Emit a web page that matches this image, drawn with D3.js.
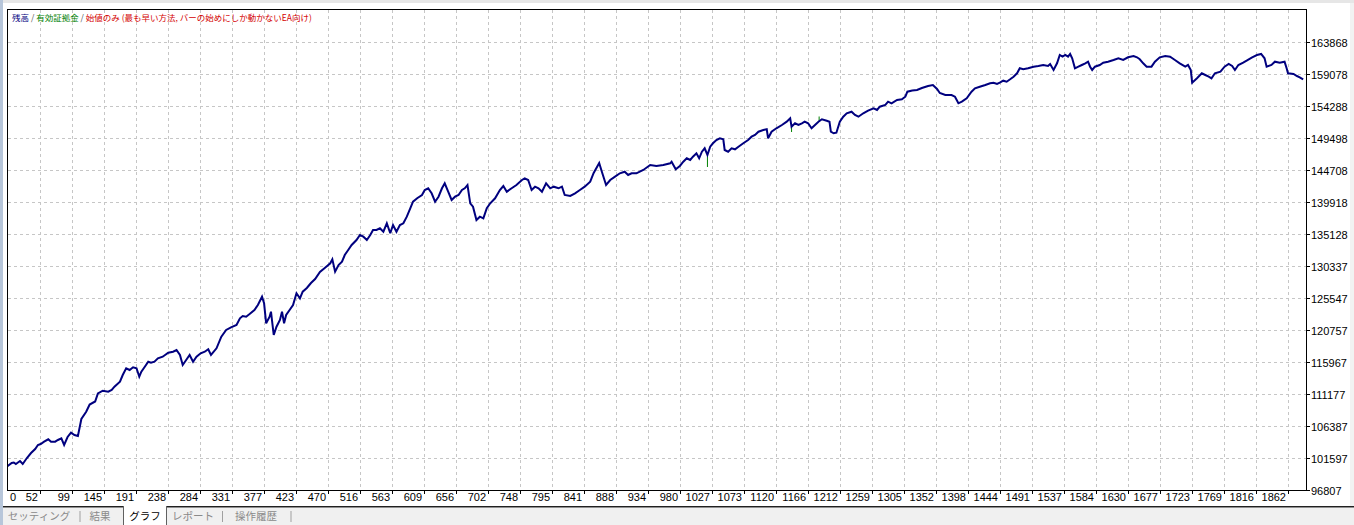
<!DOCTYPE html>
<html><head><meta charset="utf-8">
<script src="https://cdn.jsdelivr.net/npm/d3@7"></script>
<style>
html,body{margin:0;padding:0;background:#fff;overflow:hidden}
svg{display:block}
.num{font-family:"Liberation Sans Narrow","Liberation Sans",Arial,sans-serif;font-size:11px;fill:#000}
.jp{font-family:"Noto Sans CJK JP","Noto Sans CJK SC",sans-serif}
</style></head><body>
<script>
// ---------------- data ----------------
const trades = [0,11,14,17,23,27,33,39,45,49,53,58,64,68,74,78,83,87,92,97,102,107,112,119,124,132,136,143,151,156,160,168,172,177,182,187,192,196,199,204,209,213,218,223,230,238,245,250,255,259,264,269,274,279,285,291,296,300,308,315,322,329,337,342,346,351,356,363,368,374,377,380,385,387,391,395,400,403,406,409,414,419,424,429,433,439,445,451,458,465,473,476,480,485,490,494,499,504,511,516,521,526,531,535,540,545,550,555,560,564,569,574,579,584,589,593,599,606,610,615,620,625,630,635,639,644,649,654,659,664,668,672,676,680,685,690,695,700,705,712,719,724,729,736,743,751,755,760,765,770,775,780,786,792,797,804,809,813,821,828,835,842,850,855,863,867,873,879,886,893,900,905,910,917,927,937,946,956,966,968,974,980,985,990,995,999,1004,1008,1012,1016,1020,1024,1028,1033,1038,1043,1045,1050,1055,1060,1065,1072,1079,1084,1089,1094,1101,1106,1108,1113,1120,1128,1135,1140,1142,1147,1152,1157,1161,1166,1171,1176,1181,1186,1193,1197,1199,1203,1207,1212,1217,1222,1229,1234,1239,1246,1253,1261,1266,1270,1278,1282,1287,1295,1302,1307,1310,1317,1324,1331,1340,1347,1353,1357,1365,1374,1379,1384,1389,1396,1403,1408,1415,1423,1430,1435,1440,1444,1449,1454,1459,1464,1469,1473,1478,1485,1493,1500,1507,1514,1517,1522,1527,1531,1535,1539,1543,1546,1549,1553,1558,1563,1568,1572,1575,1578,1582,1589,1594,1601,1609,1616,1623,1630,1638,1643,1647,1652,1657,1664,1669,1676,1684,1691,1698,1705,1713,1717,1721,1723,1730,1737,1742,1747,1751,1756,1764,1770,1776,1781,1785,1790,1797,1802,1810,1817,1823,1828,1831,1838,1843,1850,1857,1860,1862,1870,1875,1879,1884];

const balance = [100000,100849,100923,100699,101148,100699,101597,102346,102944,103543,103693,104037,104396,104037,104037,104292,104546,103543,104741,105384,105040,104890,107435,108528,109605,110055,111252,111671,111521,111776,112270,113018,114021,115024,114770,115174,115024,113767,114515,115264,116012,115862,116012,116521,116761,117359,117509,117764,117015,115518,116267,117015,116012,116761,117270,117509,117868,117015,118018,119754,120757,121161,121506,122509,122853,122748,123152,123751,124500,125742,124754,121760,122748,123497,120009,121251,122254,123497,121760,123003,123751,124500,126251,125502,126491,127044,127793,128392,129439,130038,130742,131341,129484,130487,130981,131984,132733,133481,134230,134978,134723,134230,134978,135726,135726,135981,135472,136729,135232,136475,135472,136475,136729,137717,138975,139963,140472,140966,141714,141968,141220,139963,140711,141968,142717,141460,140217,140711,140966,141714,141968,142462,139723,139214,137223,137717,137478,138975,139723,140472,141714,142313,141460,141968,142462,143211,143465,143211,141714,142208,141968,141460,142717,141968,142208,141968,142208,140966,140816,141220,141714,142208,142956,144259,145756,144408,142462,143211,143705,144214,144453,143959,144214,144214,144708,145456,145307,145456,145711,145950,144813,145307,145950,146459,146205,146699,147208,146459,147447,147956,146953,148196,148704,149199,149453,149303,147702,147447,147956,147807,148196,148704,149199,149693,149947,150441,150695,150800,149453,150441,150950,151444,151938,152447,151190,151698,151444,151698,151938,151698,150950,151444,151938,152297,152088,151938,150441,150201,150291,151938,152686,153195,153435,152941,152686,153195,153584,153944,153689,154183,154438,154932,154692,155186,155291,155680,156428,156608,156683,156982,157282,157431,156833,156234,155935,155935,155680,154692,154932,155441,156428,156937,157177,157431,157686,157776,157581,157776,158075,157925,158284,158674,159183,159931,159781,159931,160171,160276,160425,160276,160575,159677,160680,161922,161668,161922,161668,162072,161428,159931,160171,160425,160680,160919,160171,159677,160171,160425,160769,160919,161174,161428,161174,161578,161772,161578,161278,160680,160171,160171,160919,161578,161772,161668,161174,160680,160171,160425,159677,157776,158434,159183,158928,158674,158434,159183,159423,160171,160575,160276,159677,160425,160769,161069,161578,161922,162072,161428,160171,160425,160919,160769,160919,159931,159183,159078,158779,158584,158284];

// equity excursions away from the balance line (trade, equity)
const equityTrades = [1020, 1142, 1182];
const equityValues = [145157, 150396, 152716];

const xTickLabels = [0,52,99,145,191,238,284,331,377,423,470,516,563,609,656,702,748,795,841,888,934,980,1027,1073,1120,1166,1212,1259,1305,1352,1398,1444,1491,1537,1584,1630,1677,1723,1769,1816,1862];
const yTickLabels = [96807,101597,106387,111177,115967,120757,125547,130337,135128,139918,144708,149498,154288,159078,163868];

const legendParts = [
  {text:"残高", color:"#00007f"},
  {text:" / ", color:"#555555"},
  {text:"有効証拠金", color:"#008000"},
  {text:" / ", color:"#555555"},
  {text:"始値のみ (最も早い方法, バーの始めにしか動かないEA向け)", color:"#d40000"}
];
const tabs = ["セッティング","結果","グラフ","レポート","操作履歴"];

// ---------------- layout ----------------
const W = 1354, H = 525;
const L = 8, T = 10, R = 1306, B = 490;

const x = d3.scaleLinear().domain([5.6, 1888.1]).range([L, R]);
const y = d3.scaleLinear().domain([96807, 168657]).range([B, T]);

const svg = d3.select("body").append("svg").attr("width", W).attr("height", H);

// outer frame pieces
svg.append("rect").attr("x",0).attr("y",0).attr("width",W).attr("height",3).attr("fill","#e6e6e6");
svg.append("rect").attr("x",0).attr("y",0).attr("width",3).attr("height",H).attr("fill","#b7c6da");
svg.append("rect").attr("x",1350).attr("y",3).attr("width",4).attr("height",504).attr("fill","#f2f2f2");

// grid
const g = svg.append("g");
const xGridTicks = xTickLabels.slice(1);
g.selectAll(".vg").data(xGridTicks).enter().append("line")
  .attr("x1", d => Math.round(x(d)) + 0.5).attr("x2", d => Math.round(x(d)) + 0.5)
  .attr("y1", T).attr("y2", B)
  .attr("stroke", "#c6c6c6").attr("stroke-dasharray", "3,3");
g.selectAll(".hg").data(yTickLabels.slice(1)).enter().append("line")
  .attr("y1", d => Math.round(y(d)) + 0.5).attr("y2", d => Math.round(y(d)) + 0.5)
  .attr("x1", L).attr("x2", R)
  .attr("stroke", "#c6c6c6").attr("stroke-dasharray", "3,3");

// clip
svg.append("clipPath").attr("id","clip").append("rect")
  .attr("x", L).attr("y", T).attr("width", R - L).attr("height", B - T);

const pts = d3.zip(trades, balance);
const bisect = d3.bisector(d => d[0]).left;
function balAt(n){
  const i = Math.max(1, Math.min(pts.length - 1, bisect(pts, n)));
  const a = pts[i-1], b = pts[i];
  return a[1] + (b[1]-a[1]) * (n - a[0]) / (b[0] - a[0]);
}

const plot = svg.append("g").attr("clip-path","url(#clip)");
// equity excursions (green)
plot.selectAll(".eq").data(d3.zip(equityTrades, equityValues)).enter().append("line")
  .attr("x1", d => x(d[0])).attr("x2", d => x(d[0]))
  .attr("y1", d => y(balAt(d[0]))).attr("y2", d => y(d[1]))
  .attr("stroke", "#008000").attr("stroke-width", 1);

// balance line
plot.append("path").datum(pts)
  .attr("d", d3.line().x(d => x(d[0])).y(d => y(d[1])))
  .attr("fill","none").attr("stroke","#00007f").attr("stroke-width",2)
  .attr("stroke-linejoin","miter").attr("stroke-miterlimit",3);

// frame
svg.append("rect").attr("x", L - 0.5).attr("y", T - 0.5).attr("width", R - L + 1).attr("height", B - T + 1)
  .attr("fill","none").attr("stroke","#000").attr("stroke-width",1);

// x axis ticks + labels
const xa = svg.append("g");
xa.selectAll("line").data(xGridTicks).enter().append("line")
  .attr("x1", d => Math.round(x(d)) + 0.5).attr("x2", d => Math.round(x(d)) + 0.5)
  .attr("y1", B).attr("y2", B + 4).attr("stroke","#000");
xa.selectAll("text").data(xTickLabels).enter().append("text")
  .attr("class","num")
  .attr("x", (d,i) => i === 0 ? L + 2 : Math.round(x(d)) - 2)
  .attr("y", 501)
  .attr("text-anchor", (d,i) => i === 0 ? "start" : "end")
  .text(d => d);

// y axis ticks + labels
const ya = svg.append("g");
ya.selectAll("line").data(yTickLabels).enter().append("line")
  .attr("y1", d => Math.round(y(d)) + 0.5).attr("y2", d => Math.round(y(d)) + 0.5)
  .attr("x1", R).attr("x2", R + 4).attr("stroke","#000");
ya.selectAll("text").data(yTickLabels).enter().append("text")
  .attr("class","num")
  .attr("x", R + 5)
  .attr("y", d => Math.round(y(d)) + 4.5)
  .text(d => d);

// legend
const lg = svg.append("text").attr("class","jp").attr("x", 12).attr("y", 21).attr("font-size", 8.5);
lg.selectAll("tspan").data(legendParts).enter().append("tspan")
  .attr("fill", d => d.color).attr("xml:space","preserve").text(d => d.text);

// tab bar
const tb = svg.append("g");
tb.append("rect").attr("x", 3).attr("y", 507).attr("width", W - 3).attr("height", H - 507).attr("fill", "#f0f0f0");
tb.append("line").attr("x1", 3).attr("x2", W).attr("y1", 506.5).attr("y2", 506.5).attr("stroke", "#202020");
tb.append("line").attr("x1", 3).attr("x2", W).attr("y1", 507.5).attr("y2", 507.5).attr("stroke", "#909090");
// selected tab
tb.append("rect").attr("x", 123).attr("y", 506).attr("width", 44).attr("height", H - 506).attr("fill", "#fff");
tb.append("line").attr("x1", 123.5).attr("x2", 123.5).attr("y1", 506).attr("y2", H).attr("stroke", "#606060");
tb.append("line").attr("x1", 166.5).attr("x2", 166.5).attr("y1", 506).attr("y2", H).attr("stroke", "#606060");
const tabCenters = [39, 100, 145, 193, 256];
tb.selectAll("text").data(tabs).enter().append("text")
  .attr("class","jp").attr("font-size", 10.5)
  .attr("x", (d,i) => tabCenters[i]).attr("y", 520)
  .attr("text-anchor","middle")
  .attr("fill", (d,i) => i === 2 ? "#000" : "#8a8a8a")
  .text(d => d);
const seps = [80, 222.5, 291];
tb.selectAll(".sep").data(seps).enter().append("line")
  .attr("x1", d => d).attr("x2", d => d).attr("y1", 511).attr("y2", 522)
  .attr("stroke", "#a0a0a0");
</script>
</body></html>
